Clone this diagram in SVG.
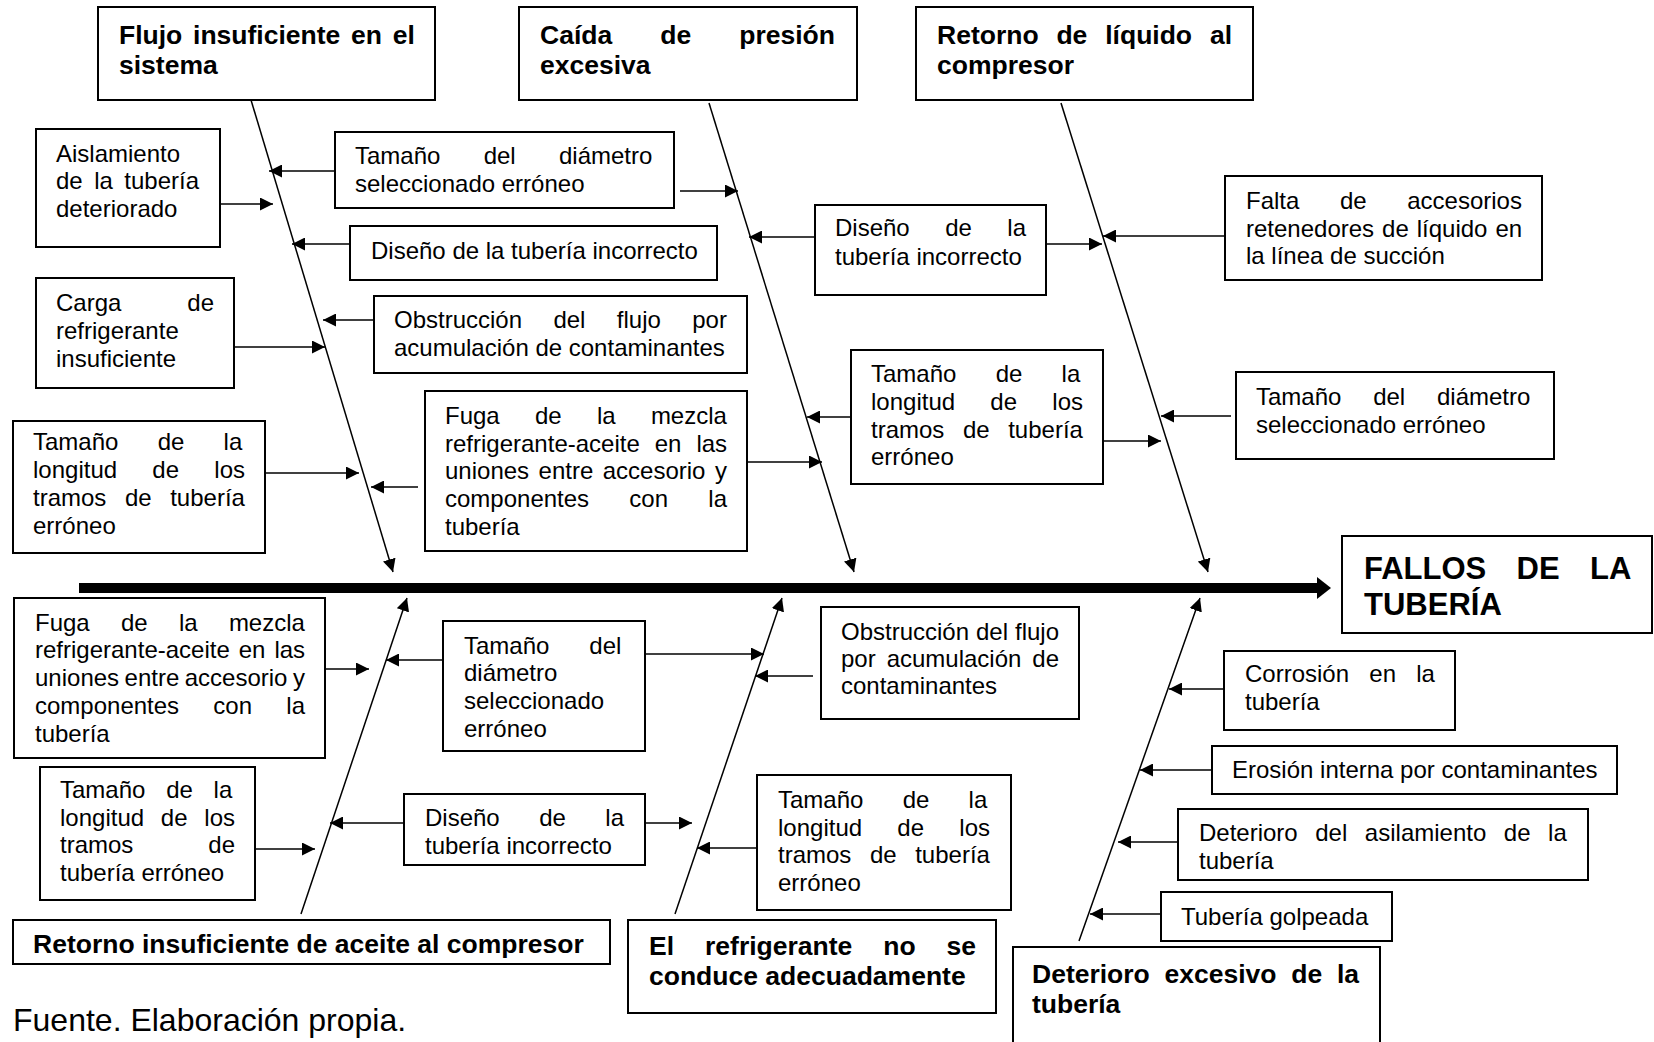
<svg xmlns="http://www.w3.org/2000/svg" width="1654" height="1042" viewBox="0 0 1654 1042">
<defs>
<style>
.box{fill:#fff;stroke:#000;stroke-width:2}
text{font-family:"Liberation Sans",Arial,sans-serif;font-size:24px;fill:#000}
text.b{font-weight:bold;font-size:26.5px}
text.h{font-weight:bold;font-size:31px}
.conn line{stroke:#000;stroke-width:1.5}
</style>
<marker id="ah" viewBox="0 0 10 10" refX="10" refY="5" markerWidth="13" markerHeight="13" markerUnits="userSpaceOnUse" orient="auto">
<path d="M0,0 L10,5 L0,10 z" fill="#000"/>
</marker>
</defs>
<rect width="1654" height="1042" fill="#fff"/>

<!-- connectors: spine, branches and cause arrows -->
<g id="connectors" class="conn">
<line x1="79" y1="588" x2="1320" y2="588" style="stroke-width:10"/>
<path d="M1317,577 L1331,588 L1317,599 z" fill="#000"/>
<line x1="251" y1="100" x2="393" y2="572" marker-end="url(#ah)"/>
<line x1="709" y1="103" x2="854" y2="572" marker-end="url(#ah)"/>
<line x1="1061" y1="103" x2="1208" y2="572" marker-end="url(#ah)"/>
<line x1="301" y1="914" x2="407" y2="598" marker-end="url(#ah)"/>
<line x1="675" y1="914" x2="782" y2="598" marker-end="url(#ah)"/>
<line x1="1079" y1="941" x2="1200" y2="598" marker-end="url(#ah)"/>
<line x1="335" y1="171" x2="269" y2="171" marker-end="url(#ah)"/>
<line x1="220" y1="204" x2="273" y2="204" marker-end="url(#ah)"/>
<line x1="350" y1="244" x2="292" y2="244" marker-end="url(#ah)"/>
<line x1="374" y1="320" x2="323" y2="320" marker-end="url(#ah)"/>
<line x1="234" y1="347" x2="325" y2="347" marker-end="url(#ah)"/>
<line x1="265" y1="473" x2="359" y2="473" marker-end="url(#ah)"/>
<line x1="418" y1="487" x2="371" y2="487" marker-end="url(#ah)"/>
<line x1="680" y1="191" x2="738" y2="191" marker-end="url(#ah)"/>
<line x1="815" y1="237" x2="749" y2="237" marker-end="url(#ah)"/>
<line x1="747" y1="462" x2="822" y2="462" marker-end="url(#ah)"/>
<line x1="851" y1="417" x2="807" y2="417" marker-end="url(#ah)"/>
<line x1="1046" y1="244" x2="1102" y2="244" marker-end="url(#ah)"/>
<line x1="1225" y1="236" x2="1103" y2="236" marker-end="url(#ah)"/>
<line x1="1231" y1="416" x2="1161" y2="416" marker-end="url(#ah)"/>
<line x1="1103" y1="441" x2="1161" y2="441" marker-end="url(#ah)"/>
<line x1="325" y1="669" x2="369" y2="669" marker-end="url(#ah)"/>
<line x1="443" y1="660" x2="386" y2="660" marker-end="url(#ah)"/>
<line x1="639" y1="654" x2="764" y2="654" marker-end="url(#ah)"/>
<line x1="813" y1="676" x2="755" y2="676" marker-end="url(#ah)"/>
<line x1="252" y1="849" x2="315" y2="849" marker-end="url(#ah)"/>
<line x1="404" y1="823" x2="330" y2="823" marker-end="url(#ah)"/>
<line x1="645" y1="823" x2="692" y2="823" marker-end="url(#ah)"/>
<line x1="757" y1="848" x2="697" y2="848" marker-end="url(#ah)"/>
<line x1="1224" y1="689" x2="1169" y2="689" marker-end="url(#ah)"/>
<line x1="1211" y1="770" x2="1140" y2="770" marker-end="url(#ah)"/>
<line x1="1182" y1="842" x2="1118" y2="842" marker-end="url(#ah)"/>
<line x1="1161" y1="914" x2="1090" y2="914" marker-end="url(#ah)"/>
</g>

<!-- category heads -->
<g id="cat-flujo"><rect class="box" x="98" y="7" width="337" height="93"/>
<text class="b"><tspan x="119" y="44" word-spacing="3.4">Flujo insuficiente en el</tspan><tspan x="119" y="74">sistema</tspan></text></g>
<g id="cat-caida"><rect class="box" x="519" y="7" width="338" height="93"/>
<text class="b"><tspan x="540" y="44" word-spacing="40.7">Caída de presión</tspan><tspan x="540" y="74">excesiva</tspan></text></g>
<g id="cat-retorno-liquido"><rect class="box" x="916" y="7" width="337" height="93"/>
<text class="b"><tspan x="937" y="44" word-spacing="10.5">Retorno de líquido al</tspan><tspan x="937" y="74">compresor</tspan></text></g>
<g id="cat-retorno-aceite"><rect class="box" x="13" y="920" width="597" height="44"/>
<text class="b" x="33" y="953">Retorno insuficiente de aceite al compresor</text></g>
<g id="cat-refrigerante"><rect class="box" x="628" y="920" width="368" height="93"/>
<text class="b"><tspan x="649" y="955" word-spacing="23.6">El refrigerante no se</tspan><tspan x="649" y="985">conduce adecuadamente</tspan></text></g>
<g id="cat-deterioro"><rect class="box" x="1013" y="947" width="367" height="100"/>
<text class="b"><tspan x="1032" y="983" word-spacing="7.4">Deterioro excesivo de la</tspan><tspan x="1032" y="1013">tubería</tspan></text></g>

<!-- effect -->
<g id="effect"><rect class="box" x="1342" y="536" width="310" height="97"/>
<text class="h"><tspan x="1364" y="579" word-spacing="21.7">FALLOS DE LA</tspan><tspan x="1364" y="615">TUBERÍA</tspan></text></g>

<!-- causes, upper half -->
<g id="c-aislamiento"><rect class="box" x="36" y="129" width="184" height="118"/>
<text><tspan x="56" y="162">Aislamiento</tspan><tspan x="56" y="189" word-spacing="4.8">de la tubería</tspan><tspan x="56" y="217">deteriorado</tspan></text></g>
<g id="c-diametro-1"><rect class="box" x="335" y="132" width="339" height="76"/>
<text><tspan x="355" y="164" word-spacing="36.6">Tamaño del diámetro</tspan><tspan x="355" y="192">seleccionado erróneo</tspan></text></g>
<g id="c-diseno-1"><rect class="box" x="350" y="226" width="367" height="54"/>
<text x="371" y="259">Diseño de la tubería incorrecto</text></g>
<g id="c-carga"><rect class="box" x="36" y="278" width="198" height="110"/>
<text><tspan x="56" y="311" word-spacing="59.3">Carga de</tspan><tspan x="56" y="339">refrigerante</tspan><tspan x="56" y="367">insuficiente</tspan></text></g>
<g id="c-obstruccion-1"><rect class="box" x="374" y="296" width="373" height="77"/>
<text><tspan x="394" y="328" word-spacing="24.7">Obstrucción del flujo por</tspan><tspan x="394" y="356">acumulación de contaminantes</tspan></text></g>
<g id="c-longitud-1"><rect class="box" x="13" y="421" width="252" height="132"/>
<text><tspan x="33" y="450" word-spacing="32.6">Tamaño de la</tspan><tspan x="33" y="478" word-spacing="28.6">longitud de los</tspan><tspan x="33" y="506" word-spacing="11.9">tramos de tubería</tspan><tspan x="33" y="534">erróneo</tspan></text></g>
<g id="c-fuga-1"><rect class="box" x="425" y="391" width="322" height="160"/>
<text><tspan x="445" y="424" word-spacing="28.6">Fuga de la mezcla</tspan><tspan x="445" y="452" word-spacing="8.3">refrigerante-aceite en las</tspan><tspan x="445" y="479" word-spacing="2.8">uniones entre accesorio y</tspan><tspan x="445" y="507" word-spacing="33.6">componentes con la</tspan><tspan x="445" y="535">tubería</tspan></text></g>
<g id="c-diseno-2"><rect class="box" x="815" y="205" width="231" height="90"/>
<text><tspan x="835" y="236" word-spacing="28.8">Diseño de la</tspan><tspan x="835" y="265">tubería incorrecto</tspan></text></g>
<g id="c-longitud-2"><rect class="box" x="851" y="350" width="252" height="134"/>
<text><tspan x="871" y="382" word-spacing="32.6">Tamaño de la</tspan><tspan x="871" y="410" word-spacing="28.6">longitud de los</tspan><tspan x="871" y="438" word-spacing="11.9">tramos de tubería</tspan><tspan x="871" y="465">erróneo</tspan></text></g>
<g id="c-falta"><rect class="box" x="1225" y="176" width="317" height="104"/>
<text><tspan x="1246" y="209" word-spacing="33.9">Falta de accesorios</tspan><tspan x="1246" y="237" word-spacing="1.3">retenedores de líquido en</tspan><tspan x="1246" y="264">la línea de succión</tspan></text></g>
<g id="c-diametro-2"><rect class="box" x="1236" y="372" width="318" height="87"/>
<text><tspan x="1256" y="405" word-spacing="25.1">Tamaño del diámetro</tspan><tspan x="1256" y="433">seleccionado erróneo</tspan></text></g>

<!-- causes, lower half -->
<g id="c-fuga-2"><rect class="box" x="14" y="598" width="311" height="160"/>
<text><tspan x="35" y="631" word-spacing="24.6">Fuga de la mezcla</tspan><tspan x="35" y="658" word-spacing="2.3">refrigerante-aceite en las</tspan><tspan x="35" y="686" word-spacing="-1.2">uniones entre accesorio y</tspan><tspan x="35" y="714" word-spacing="27.6">componentes con la</tspan><tspan x="35" y="742">tubería</tspan></text></g>
<g id="c-diametro-3"><rect class="box" x="443" y="621" width="202" height="130"/>
<text><tspan x="464" y="654" word-spacing="33.3">Tamaño del</tspan><tspan x="464" y="681">diámetro</tspan><tspan x="464" y="709">seleccionado</tspan><tspan x="464" y="737">erróneo</tspan></text></g>
<g id="c-obstruccion-2"><rect class="box" x="821" y="607" width="258" height="112"/>
<text><tspan x="841" y="640" word-spacing="0.3">Obstrucción del flujo</tspan><tspan x="841" y="667" word-spacing="4.3">por acumulación de</tspan><tspan x="841" y="694">contaminantes</tspan></text></g>
<g id="c-corrosion"><rect class="box" x="1224" y="651" width="231" height="79"/>
<text><tspan x="1245" y="682" word-spacing="13.6">Corrosión en la</tspan><tspan x="1245" y="710">tubería</tspan></text></g>
<g id="c-erosion"><rect class="box" x="1212" y="746" width="405" height="48"/>
<text x="1232" y="778">Erosión interna por contaminantes</text></g>
<g id="c-longitud-3"><rect class="box" x="40" y="767" width="215" height="133"/>
<text><tspan x="60" y="798" word-spacing="14.1">Tamaño de la</tspan><tspan x="60" y="826" word-spacing="10.1">longitud de los</tspan><tspan x="60" y="853" word-spacing="68.3">tramos de</tspan><tspan x="60" y="881">tubería erróneo</tspan></text></g>
<g id="c-diseno-3"><rect class="box" x="404" y="794" width="241" height="71"/>
<text><tspan x="425" y="826" word-spacing="32.8">Diseño de la</tspan><tspan x="425" y="854">tubería incorrecto</tspan></text></g>
<g id="c-longitud-4"><rect class="box" x="757" y="775" width="254" height="135"/>
<text><tspan x="778" y="808" word-spacing="32.6">Tamaño de la</tspan><tspan x="778" y="836" word-spacing="28.6">longitud de los</tspan><tspan x="778" y="863" word-spacing="11.9">tramos de tubería</tspan><tspan x="778" y="891">erróneo</tspan></text></g>
<g id="c-aislamiento-2"><rect class="box" x="1178" y="809" width="410" height="71"/>
<text><tspan x="1199" y="841" word-spacing="10.9">Deterioro del asilamiento de la</tspan><tspan x="1199" y="869">tubería</tspan></text></g>
<g id="c-golpeada"><rect class="box" x="1161" y="892" width="231" height="49"/>
<text x="1181" y="925">Tubería golpeada</text></g>

<text id="source" x="13" y="1031" style="font-size:32px">Fuente. Elaboración propia.</text>
</svg>
